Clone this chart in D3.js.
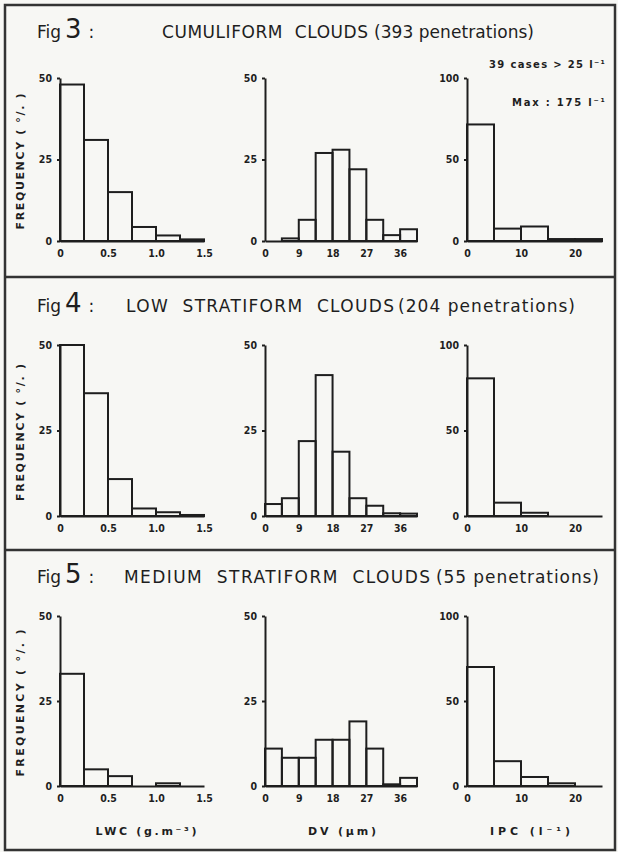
<!DOCTYPE html>
<html>
<head>
<meta charset="utf-8">
<script src="https://cdn.jsdelivr.net/npm/d3@7"></script>
<style>
  body { margin: 0; background: #f7f7f4; }
  svg { display: block; }
  .axis path, .axis line { stroke: #1e1e1e; stroke-width: 2px; }
  .axis text { font-family: "DejaVu Sans Condensed", "DejaVu Sans", sans-serif; font-weight: bold; font-size: 10.5px; fill: #1e1e1e; }
  .title { font-family: "DejaVu Sans", sans-serif; fill: #1e1e1e; }
  .label { font-family: "DejaVu Sans", sans-serif; font-weight: bold; font-size: 10px; fill: #1e1e1e; }
</style>
</head>
<body>
<script>
// bin edges for the three variables
var lwcBins = [0, 0.25, 0.5, 0.75, 1.0, 1.25, 1.5];
var dvBins = [0, 4.5, 9, 13.5, 18, 22.5, 27, 31.5, 36, 40.5];
var ipcBins = [0, 5, 10, 15, 20, 25];

// tick labels
var lwcTicks = [0, 0.5, 1.0, 1.5];
var dvTicks = [0, 9, 18, 27, 36];
var ipcTicks = [0, 10, 20];
var freqTicks = [0, 25, 50];
var ipcFreqTicks = [0, 50, 100];

// frequencies (%)
var fig3Lwc = [48, 31, 15, 4.3, 1.7, 0.5];
var fig3Dv = [0, 0.8, 6.5, 27, 28, 22, 6.5, 1.8, 3.6];
var fig3Ipc = [71.5, 7.6, 8.9, 1.2, 1.2];

var fig4Lwc = [50, 35.9, 10.8, 2.2, 1.1, 0.3];
var fig4Dv = [3.5, 5.2, 21.9, 41.2, 18.8, 5.2, 3, 0.8, 0.7];
var fig4Ipc = [80.5, 7.8, 1.9, 0, 0];

var fig5Lwc = [33, 4.9, 2.9, 0, 0.8, 0];
var fig5Dv = [11, 8.3, 8.3, 13.6, 13.6, 19, 11, 0.5, 2.4];
var fig5Ipc = [70, 14.6, 5.3, 1.6, 0];

// titles
var figNumbers = ["3", "4", "5"];
var figNames = ["CUMULIFORM  CLOUDS", "LOW  STRATIFORM  CLOUDS", "MEDIUM  STRATIFORM  CLOUDS"];
var figNotes = ["(393 penetrations)", "(204 penetrations)", "(55 penetrations)"];
var axisTitles = ["LWC (g.m\u207B\u00B3)", "DV (\u00B5m)", "IPC (l\u207B\u00B9)"];

window.onload = function() {
  var svg = d3.select("body")
    .append("svg")
    .attr("width", 618)
    .attr("height", 852);

  // frame and separators
  svg.append("rect")
    .attr("x", 5).attr("y", 5)
    .attr("width", 610).attr("height", 845)
    .style("fill", "none").style("stroke", "#333").style("stroke-width", 2.5);

  [277, 550].forEach(function(y) {
    svg.append("line")
      .attr("x1", 5).attr("x2", 615)
      .attr("y1", y).attr("y2", y)
      .style("stroke", "#333").style("stroke-width", 2.5);
  });

  // layout of the rows and columns
  var rows = [
    {titleY: 38, top: 78, bottom: 241, nameX: 162, nameW: 206, noteX: 374, noteW: 160, freqLen: 136},
    {titleY: 312, top: 345, bottom: 516, nameX: 126, nameW: 268, noteX: 398, noteW: 177, freqLen: 137},
    {titleY: 583, top: 616, bottom: 786, nameX: 124, nameW: 306, noteX: 436, noteW: 163, freqLen: 147}
  ];
  var cols = [{x: 60, w: 144}, {x: 265, w: 152}, {x: 467, w: 135}];

  var data = [
    [fig3Lwc, fig3Dv, fig3Ipc],
    [fig4Lwc, fig4Dv, fig4Ipc],
    [fig5Lwc, fig5Dv, fig5Ipc]
  ];

  var lwcFormat = function(d) { return d === 0 ? "0" : d.toFixed(1); };
  var panels = [
    {bins: lwcBins, ticks: lwcTicks, yMax: 50, yTicks: freqTicks, format: lwcFormat},
    {bins: dvBins, ticks: dvTicks, yMax: 50, yTicks: freqTicks, format: d3.format("d")},
    {bins: ipcBins, ticks: ipcTicks, yMax: 100, yTicks: ipcFreqTicks, format: d3.format("d")}
  ];

  rows.forEach(function(row, r) {
    // figure title
    var t = svg.append("text")
      .attr("class", "title")
      .attr("x", 37)
      .attr("y", row.titleY);
    t.append("tspan").style("font-size", "17px").text("Fig");
    t.append("tspan").attr("dx", 4).style("font-size", "26px").text(figNumbers[r]);
    t.append("tspan").attr("dx", 7).style("font-size", "17px").text(":");

    svg.append("text")
      .attr("class", "title")
      .attr("x", row.nameX)
      .attr("y", row.titleY)
      .attr("textLength", row.nameW)
      .attr("lengthAdjust", "spacing")
      .attr("xml:space", "preserve")
      .style("font-size", "17px")
      .text(figNames[r]);

    svg.append("text")
      .attr("class", "title")
      .attr("x", row.noteX)
      .attr("y", row.titleY)
      .attr("textLength", row.noteW)
      .attr("lengthAdjust", "spacing")
      .style("font-size", "17px")
      .text(figNotes[r]);

    // y-axis label
    svg.append("text")
      .attr("class", "label")
      .attr("transform", "translate(24," + ((row.top + row.bottom) / 2 + 2) + ") rotate(-90)")
      .attr("text-anchor", "middle")
      .attr("textLength", row.freqLen)
      .attr("lengthAdjust", "spacing")
      .style("font-size", "11px")
      .text("FREQUENCY ( \u00B0/. )");

    cols.forEach(function(col, c) {
      drawPanel(svg, col, row, panels[c], data[r][c]);
    });
  });

  // extra notes on the cumuliform IPC panel
  svg.append("text")
    .attr("class", "label")
    .attr("x", 489).attr("y", 68)
    .attr("textLength", 116)
    .attr("lengthAdjust", "spacing")
    .text("39 cases > 25 l\u207B\u00B9");

  svg.append("text")
    .attr("class", "label")
    .attr("x", 512).attr("y", 106)
    .attr("textLength", 93)
    .attr("lengthAdjust", "spacing")
    .text("Max : 175 l\u207B\u00B9");

  // x-axis titles under the last row
  var titleLens = [101, 68, 80];
  var titleCenters = [146, 342, 530];
  cols.forEach(function(col, c) {
    svg.append("text")
      .attr("class", "label")
      .attr("x", titleCenters[c])
      .attr("y", 835)
      .attr("text-anchor", "middle")
      .attr("textLength", titleLens[c])
      .attr("lengthAdjust", "spacing")
      .style("font-size", "11px")
      .text(axisTitles[c]);
  });
};

function drawPanel(svg, col, row, panel, values) {
  var bins = panel.bins;

  var xscale = d3.scaleLinear()
    .domain([bins[0], bins[bins.length - 1]])
    .range([col.x, col.x + col.w]);

  var yscale = d3.scaleLinear()
    .domain([0, panel.yMax])
    .range([row.bottom, row.top]);

  var g = svg.append("g");

  // bars
  g.selectAll("rect")
    .data(values)
    .enter()
    .append("rect")
    .attr("x", function(d, i) { return xscale(bins[i]); })
    .attr("y", function(d) { return yscale(d); })
    .attr("width", function(d, i) { return xscale(bins[i + 1]) - xscale(bins[i]); })
    .attr("height", function(d) { return row.bottom - yscale(d); })
    .style("fill", "none")
    .style("stroke", "#1e1e1e")
    .style("stroke-width", 2);

  // x axis
  g.append("g")
    .attr("class", "axis")
    .attr("transform", "translate(0," + row.bottom + ")")
    .call(d3.axisBottom(xscale)
      .tickValues(panel.ticks)
      .tickFormat(panel.format)
      .tickSize(0)
      .tickPadding(9));

  // y axis
  g.append("g")
    .attr("class", "axis")
    .attr("transform", "translate(" + col.x + ",0)")
    .call(d3.axisLeft(yscale)
      .tickValues(panel.yTicks)
      .tickSize(3)
      .tickSizeOuter(0)
      .tickPadding(5));
}
</script>
</body>
</html>
